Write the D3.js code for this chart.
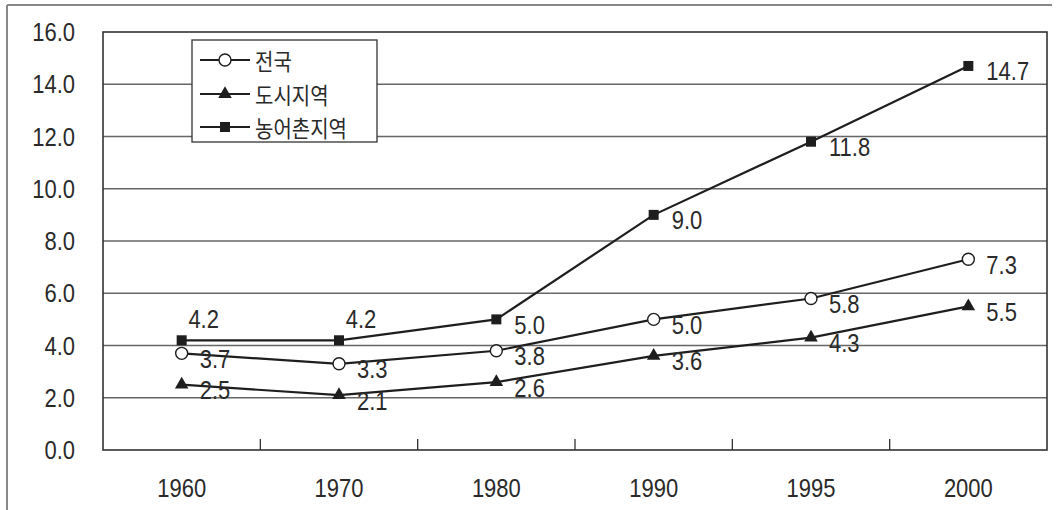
<!DOCTYPE html>
<html>
<head>
<meta charset="utf-8">
<script src="https://cdn.jsdelivr.net/npm/d3@7"></script>
<style>
  html, body { margin: 0; padding: 0; background: #fff; }
  svg { display: block; }
  text { font-family: "Liberation Sans", Arial, "Noto Sans CJK KR", sans-serif; fill: #2a2a2a; }
  .kr { font-family: "Noto Sans CJK KR", "Liberation Sans", sans-serif; }
</style>
</head>
<body>
<svg id="chart" width="1056" height="510"></svg>
<script>
// Categories (years) and series values
const years = ["1960", "1970", "1980", "1990", "1995", "2000"];
const seriesNames = ["전국", "도시지역", "농어촌지역"];
const national = [3.7, 3.3, 3.8, 5.0, 5.8, 7.3];
const urban = [2.5, 2.1, 2.6, 3.6, 4.3, 5.5];
const rural = [4.2, 4.2, 5.0, 9.0, 11.8, 14.7];
const yTicks = [0, 2, 4, 6, 8, 10, 12, 14, 16];

const series = [
  { name: seriesNames[0], values: national, marker: "circle" },
  { name: seriesNames[1], values: urban, marker: "triangle" },
  { name: seriesNames[2], values: rural, marker: "square" }
];

const svg = d3.select("#chart");
const W = 1056, H = 510;
const plot = { left: 103, right: 1047, top: 32, bottom: 450 };
const ink = "#1e1e1e";
const stretch = 1.15; // glyphs are drawn slightly taller than wide

// outer frame (left and top edges)
svg.append("line").attr("x1", 7).attr("x2", 7).attr("y1", 5).attr("y2", H)
  .attr("stroke", "#888").attr("stroke-width", 2);
svg.append("line").attr("x1", 7).attr("x2", 1052).attr("y1", 5).attr("y2", 5)
  .attr("stroke", "#888").attr("stroke-width", 2);

const x = d3.scaleBand().domain(years).range([plot.left, plot.right]).padding(0);
const y = d3.scaleLinear().domain([0, 16]).range([plot.bottom, plot.top]);
const cx = d => x(d) + x.bandwidth() / 2;

function label(g, tx, ty, str, anchor, size, cls) {
  return g.append("text")
    .attr("class", cls || null)
    .attr("transform", `translate(${tx},${ty}) scale(1,${stretch})`)
    .attr("text-anchor", anchor)
    .attr("dominant-baseline", "central")
    .style("font-size", size + "px")
    .text(str);
}

// horizontal gridlines
svg.append("g").selectAll("line").data(yTicks.filter(t => t > 0 && t < 16)).join("line")
  .attr("x1", plot.left).attr("x2", plot.right)
  .attr("y1", d => y(d)).attr("y2", d => y(d))
  .attr("stroke", "#666").attr("stroke-width", 1.4);

// plot frame
svg.append("rect")
  .attr("x", plot.left).attr("y", plot.top)
  .attr("width", plot.right - plot.left).attr("height", plot.bottom - plot.top)
  .attr("fill", "none").attr("stroke", "#333").attr("stroke-width", 1.6);

// y axis labels
const yAxis = d3.axisLeft(y).tickValues(yTicks).tickFormat(d3.format(".1f")).tickSize(0);
const yg = svg.append("g").attr("transform", `translate(${plot.left},0)`).call(yAxis);
yg.select(".domain").remove();
yg.selectAll(".tick text").remove();
yg.selectAll(".tick").each(function (d) {
  label(d3.select(this), -28, 0, d3.format(".1f")(d), "end", 22);
});

// x axis: category boundary ticks pointing into the plot, labels below
const xg = svg.append("g");
xg.selectAll("line").data(years.slice(1)).join("line")
  .attr("x1", d => x(d)).attr("x2", d => x(d))
  .attr("y1", plot.bottom).attr("y2", plot.bottom - 11)
  .attr("stroke", "#333").attr("stroke-width", 1.3);
years.forEach(yr => label(xg, cx(yr), 488, yr, "middle", 22));

// marker drawing
const sym = {
  circle: d3.symbol().type(d3.symbolCircle).size(Math.PI * 36),
  triangle: d3.symbol().type(d3.symbolTriangle).size(80),
  square: d3.symbol().type(d3.symbolSquare).size(100)
};
function drawMarker(g, kind, px, py) {
  const p = g.append("path")
    .attr("d", sym[kind]())
    .attr("transform", `translate(${px},${py})`);
  if (kind === "circle") p.attr("fill", "#fff").attr("stroke", ink).attr("stroke-width", 1.4);
  else p.attr("fill", ink);
}

const line = d3.line().x((d, i) => cx(years[i])).y(d => y(d));

series.forEach((s, si) => {
  const g = svg.append("g");
  g.append("path").datum(s.values).attr("d", line)
    .attr("fill", "none").attr("stroke", ink).attr("stroke-width", 2.2);
  s.values.forEach((v, i) => {
    drawMarker(g, s.marker, cx(years[i]), y(v));
  });
  // value labels: right of the marker, slightly low; the two flat rural points get theirs above
  s.values.forEach((v, i) => {
    const px = cx(years[i]), py = y(v);
    const above = s.marker === "square" && i < 2;
    if (above) label(g, px + 22, py - 21, v.toFixed(1), "middle", 22);
    else label(g, px + 18, py + 6, v.toFixed(1), "start", 22);
  });
});

// legend
const lg = svg.append("g");
lg.append("rect").attr("x", 192).attr("y", 40).attr("width", 185).attr("height", 102)
  .attr("fill", "#fff").attr("stroke", "#333").attr("stroke-width", 1.3);
const legendRows = [60, 94, 127];
series.forEach((s, i) => {
  const ly = legendRows[i];
  lg.append("line").attr("x1", 200).attr("x2", 250).attr("y1", ly).attr("y2", ly)
    .attr("stroke", ink).attr("stroke-width", 2.2);
  drawMarker(lg, s.marker, 225, ly);
  label(lg, 255, ly, s.name, "start", 20, "kr");
});
</script>
</body>
</html>
